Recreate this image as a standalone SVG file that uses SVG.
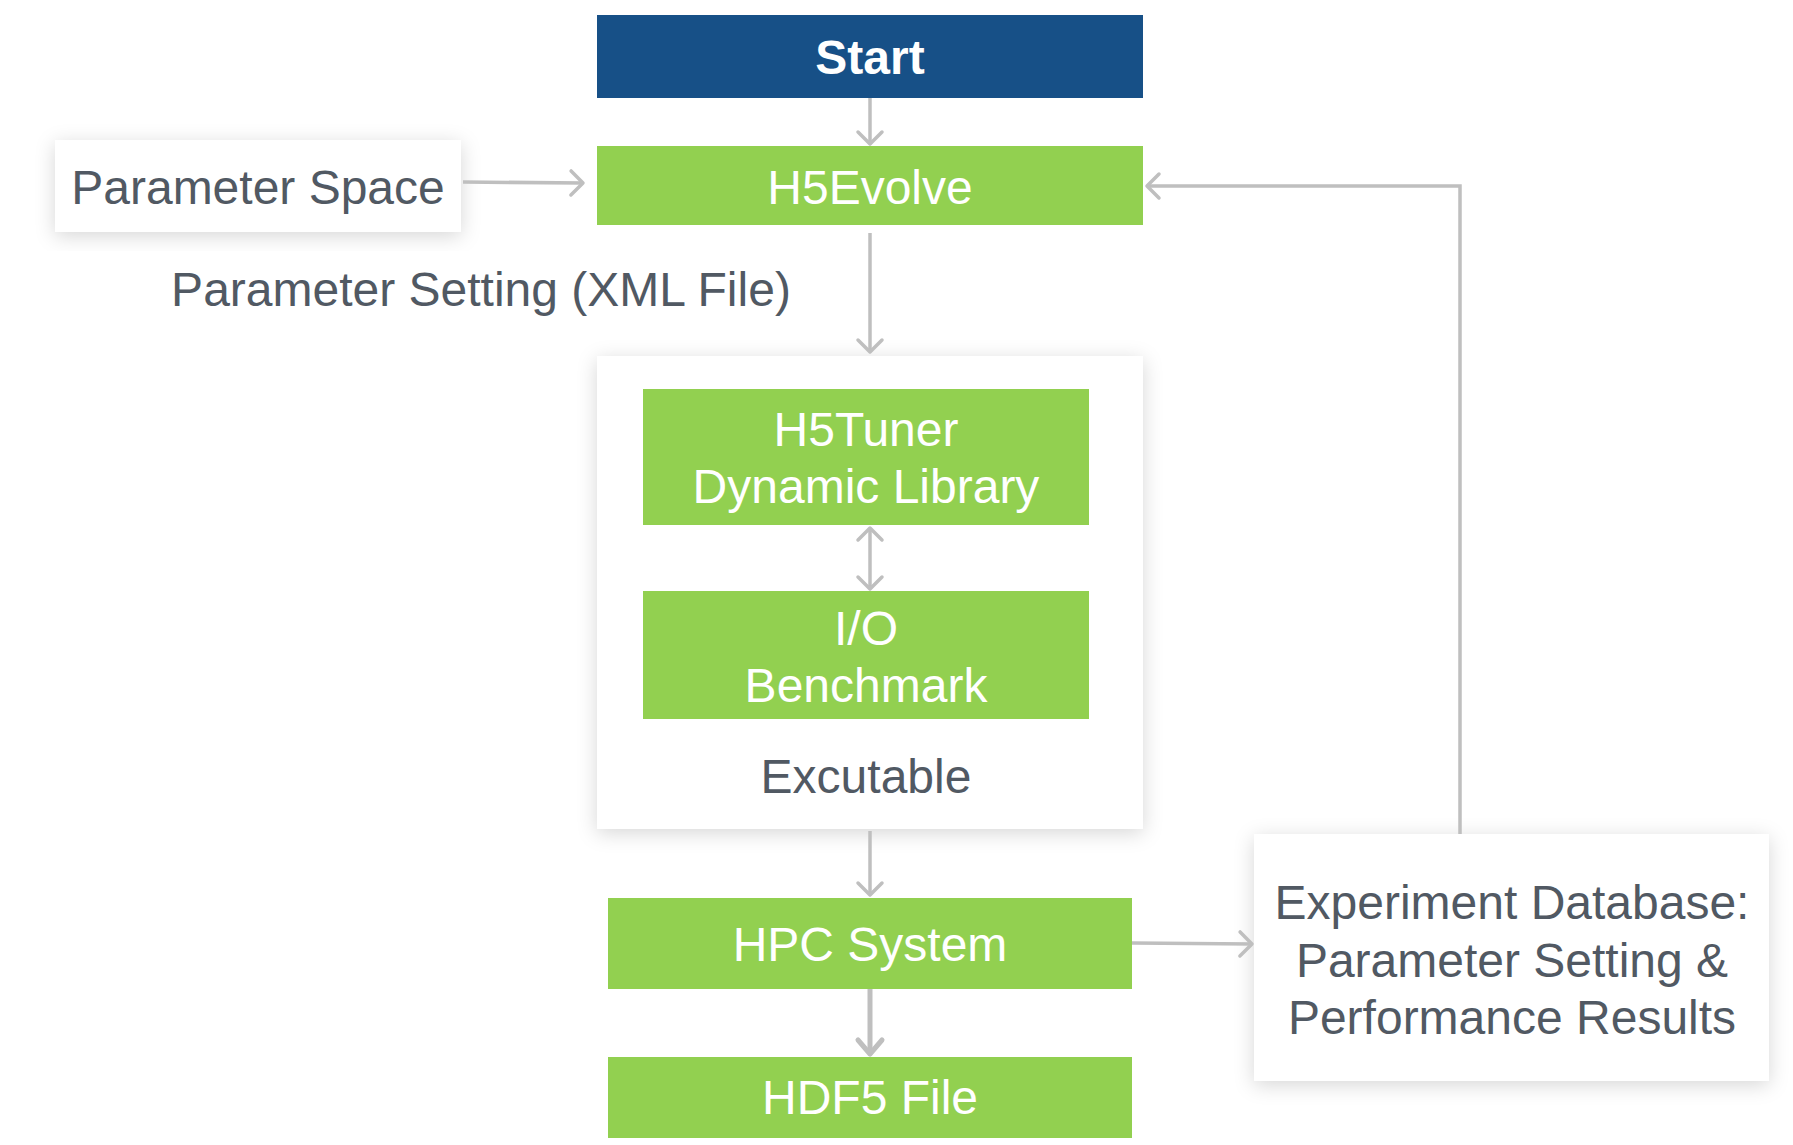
<svg xmlns="http://www.w3.org/2000/svg" width="1793" height="1145" viewBox="0 0 1793 1145">
<style>
.t{font-family:"Liberation Sans",Arial,sans-serif;font-size:48px;text-anchor:middle}
.w{fill:#ffffff}
.g{fill:#515963}
.green{fill:#92D050}
.card{fill:#ffffff;filter:url(#sh)}
.c{stroke:#BFBFBF;stroke-width:3.5;fill:none}
</style>
<defs>
<filter id="sh" x="-20%" y="-20%" width="140%" height="140%">
<feDropShadow dx="0" dy="4" stdDeviation="10" flood-color="#000000" flood-opacity="0.16"/>
</filter>
<marker id="a" markerUnits="userSpaceOnUse" markerWidth="30" markerHeight="30" viewBox="-15 -15 30 30" refX="0" refY="0" orient="auto-start-reverse" overflow="visible">
<path d="M-12,-12 L0,0 L-12,12" fill="none" stroke="#BFBFBF" stroke-width="3.5" stroke-linecap="round" stroke-linejoin="round"/>
</marker>
<marker id="b" markerUnits="userSpaceOnUse" markerWidth="34" markerHeight="34" viewBox="-17 -17 34 34" refX="0" refY="0" orient="auto" overflow="visible">
<path d="M-14,-12 L0,0 L-14,12" fill="none" stroke="#BFBFBF" stroke-width="5" stroke-linecap="round" stroke-linejoin="round"/>
</marker>
</defs>
<rect width="1793" height="1145" fill="#ffffff"/>

<g id="start">
<rect x="597" y="15" width="546" height="83" fill="#175087"/>
<text class="t w" x="870" y="74" font-weight="bold">Start</text>
</g>

<g id="param-space">
<rect class="card" x="55" y="140" width="406" height="92"/>
<text class="t g" x="258" y="204">Parameter Space</text>
</g>

<g id="h5evolve">
<rect class="green" x="597" y="146" width="546" height="79"/>
<text class="t w" x="870" y="204">H5Evolve</text>
</g>

<g id="param-setting-label">
<text class="t g" x="481" y="306">Parameter Setting (XML File)</text>
</g>

<g id="executable">
<rect class="card" x="597" y="356" width="546" height="473"/>
<text class="t g" x="866" y="793">Excutable</text>
</g>

<g id="h5tuner">
<rect class="green" x="643" y="389" width="446" height="136"/>
<text class="t w" x="866" y="446">H5Tuner</text>
<text class="t w" x="866" y="503">Dynamic Library</text>
</g>

<g id="io-benchmark">
<rect class="green" x="643" y="591" width="446" height="128"/>
<text class="t w" x="866" y="645">I/O</text>
<text class="t w" x="866" y="702">Benchmark</text>
</g>

<g id="hpc">
<rect class="green" x="608" y="898" width="524" height="91"/>
<text class="t w" x="870" y="961">HPC System</text>
</g>

<g id="hdf5">
<rect class="green" x="608" y="1057" width="524" height="81"/>
<text class="t w" x="870" y="1114">HDF5 File</text>
</g>

<g id="database">
<rect class="card" x="1254" y="834" width="515" height="247"/>
<text class="t g" x="1512" y="919">Experiment Database:</text>
<text class="t g" x="1512" y="977">Parameter Setting &amp;</text>
<text class="t g" x="1512" y="1034">Performance Results</text>
</g>

<g id="connectors">
<line class="c" x1="870" y1="98" x2="870" y2="144" marker-end="url(#a)"/>
<line class="c" x1="463" y1="182" x2="583" y2="183" marker-end="url(#a)"/>
<line class="c" x1="870" y1="233" x2="870" y2="352" marker-end="url(#a)"/>
<line class="c" x1="870" y1="528" x2="870" y2="589" marker-start="url(#a)" marker-end="url(#a)"/>
<line class="c" x1="870" y1="831" x2="870" y2="895" marker-end="url(#a)"/>
<line x1="870" y1="989" x2="870" y2="1054" stroke="#BFBFBF" stroke-width="5" marker-end="url(#b)"/>
<line class="c" x1="1132" y1="943" x2="1252" y2="944" marker-end="url(#a)"/>
<path class="c" d="M1460,834 V186 H1147" marker-end="url(#a)"/>
</g>
</svg>
